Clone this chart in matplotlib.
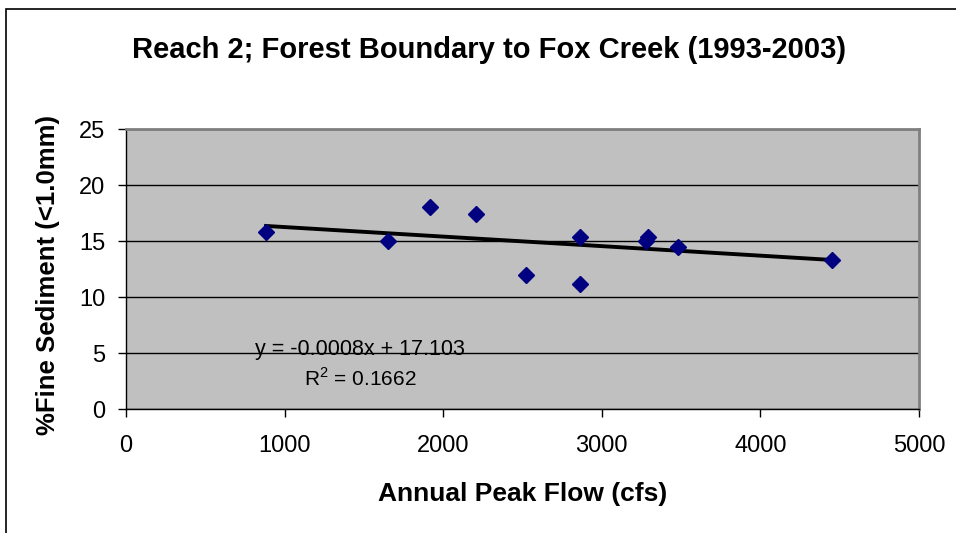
import numpy as np
import matplotlib
matplotlib.use("Agg")
from matplotlib import pyplot as plt
from matplotlib.patches import Rectangle

# annual peak flow (cfs) and % fine sediment
peak_flow = [883, 1654, 1917, 2207, 2522, 2862, 2862, 3276, 3293, 3482, 4449]
fine_sed = [15.85, 15.0, 18.0, 17.45, 11.95, 15.4, 11.2, 15.0, 15.4, 14.45, 13.35]

x_ticks = [0, 1000, 2000, 3000, 4000, 5000]
y_ticks = [0, 5, 10, 15, 20, 25]

title = "Reach 2; Forest Boundary to Fox Creek (1993-2003)"
eq_text = "y = -0.0008x + 17.103"
r2_text = "R$^2$ = 0.1662"

plt.rcParams["font.family"] = ["Liberation Sans", "DejaVu Sans"]
plt.rcParams["mathtext.fontset"] = "custom"
plt.rcParams["mathtext.rm"] = "Liberation Sans"

fig = plt.figure(figsize=(9.56, 5.33), dpi=100)
ax = fig.add_axes([0.1318, 0.2326, 0.8295, 0.5253])
ax.set_facecolor("#c0c0c0")

# outer chart border (only top and left visible)
fig.patches.append(Rectangle((6/956, -0.05), 1.1, 1.05 - 9/533, transform=fig.transFigure,
                             fill=False, edgecolor="black", linewidth=1.2))

# trendline
coef = np.polyfit(peak_flow, fine_sed, 1)
xs = np.array([min(peak_flow), max(peak_flow)])
ax.plot(xs, np.polyval(coef, xs), color="black", lw=2.8, zorder=3)

ax.plot(peak_flow, fine_sed, "D", color="#000080", markersize=8, zorder=4)

ax.set_xlim(0, 5000)
ax.set_ylim(0, 25)
ax.set_xticks(x_ticks)
ax.set_yticks(y_ticks)
ax.tick_params(direction="out", length=6, width=1, labelsize=17)
ax.tick_params(axis="x", pad=13)
ax.tick_params(axis="y", pad=9)
ax.yaxis.grid(True, color="black", lw=1)
ax.set_axisbelow(True)

for s in ["top", "right"]:
    ax.spines[s].set_color("#808080")
    ax.spines[s].set_linewidth(2)
for s in ["left", "bottom"]:
    ax.spines[s].set_color("black")
    ax.spines[s].set_linewidth(1)

ax.set_xlabel("Annual Peak Flow (cfs)", fontsize=19, fontweight="bold")
ax.xaxis.set_label_coords(0.5, -0.262)
ax.set_ylabel("%Fine Sediment (<1.0mm)", fontsize=18.5, fontweight="bold")
ax.yaxis.set_label_coords(-0.083, 0.48)

fig.text(0.5115, 0.906, title, fontsize=21, fontweight="bold", ha="center", va="center")

ax.text(0.295, 0.214, eq_text, transform=ax.transAxes, fontsize=15.5, ha="center", va="center", zorder=5)
ax.text(0.295, 0.11, r2_text, transform=ax.transAxes, fontsize=15, ha="center", va="center", zorder=5)

fig.savefig("out.png", dpi=100)
